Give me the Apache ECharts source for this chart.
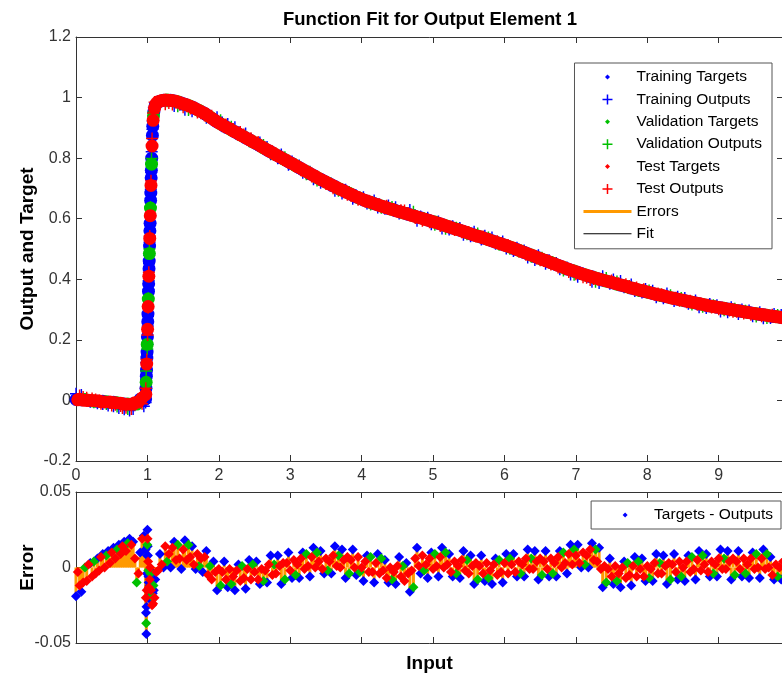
<!DOCTYPE html>
<html>
<head>
<meta charset="utf-8">
<script src="https://cdn.jsdelivr.net/npm/echarts@6/dist/echarts.min.js"></script>
<style>
html, body { margin: 0; padding: 0; background: #fff; }
#chart { width: 782px; height: 675px; }
</style>
</head>
<body>
<div id="chart"></div>
<script>
// input samples: flat part, the steep rise, then the decay
let inputX = [
  0, 0.025, 0.05, 0.075, 0.1, 0.125, 0.15, 0.175, 0.2, 0.225, 0.25, 0.275, 0.3, 0.325, 0.35, 0.375, 0.4, 0.425, 0.45, 0.475,
  0.5, 0.525, 0.55, 0.575, 0.6, 0.625, 0.65, 0.675, 0.7, 0.725, 0.75, 0.775, 0.8, 0.825, 0.85, 0.875, 0.9, 0.925, 0.95,
  0.975, 0.9775, 0.98, 0.9825, 0.985, 0.9875, 0.99, 0.9925, 0.995, 0.9975, 1, 1.0025, 1.005, 1.0075, 1.01, 1.0125, 1.015, 1.0175,
  1.02, 1.0225, 1.025, 1.0275, 1.03, 1.0325, 1.035, 1.0375, 1.04, 1.0425, 1.045, 1.0475, 1.05, 1.0525, 1.055, 1.0575, 1.06,
  1.065, 1.07, 1.075, 1.08, 1.085, 1.09, 1.1, 1.11, 1.125,
  1.15, 1.175, 1.2, 1.225, 1.25, 1.275, 1.3, 1.325, 1.35, 1.375, 1.4, 1.425,
  1.45, 1.475, 1.5, 1.525, 1.55, 1.575, 1.6, 1.625, 1.65, 1.675, 1.7, 1.725,
  1.75, 1.775, 1.8, 1.825, 1.85, 1.875, 1.9, 1.925, 1.95, 1.975, 2, 2.025,
  2.05, 2.075, 2.1, 2.125, 2.15, 2.175, 2.2, 2.225, 2.25, 2.275, 2.3, 2.325,
  2.35, 2.375, 2.4, 2.425, 2.45, 2.475, 2.5, 2.525, 2.55, 2.575, 2.6, 2.625,
  2.65, 2.675, 2.7, 2.725, 2.75, 2.775, 2.8, 2.825, 2.85, 2.875, 2.9, 2.925,
  2.95, 2.975, 3, 3.025, 3.05, 3.075, 3.1, 3.125, 3.15, 3.175, 3.2, 3.225,
  3.25, 3.275, 3.3, 3.325, 3.35, 3.375, 3.4, 3.425, 3.45, 3.475, 3.5, 3.525,
  3.55, 3.575, 3.6, 3.625, 3.65, 3.675, 3.7, 3.725, 3.75, 3.775, 3.8, 3.825,
  3.85, 3.875, 3.9, 3.925, 3.95, 3.975, 4, 4.025, 4.05, 4.075, 4.1, 4.125,
  4.15, 4.175, 4.2, 4.225, 4.25, 4.275, 4.3, 4.325, 4.35, 4.375, 4.4, 4.425,
  4.45, 4.475, 4.5, 4.525, 4.55, 4.575, 4.6, 4.625, 4.65, 4.675, 4.7, 4.725,
  4.75, 4.775, 4.8, 4.825, 4.85, 4.875, 4.9, 4.925, 4.95, 4.975, 5, 5.025,
  5.05, 5.075, 5.1, 5.125, 5.15, 5.175, 5.2, 5.225, 5.25, 5.275, 5.3, 5.325,
  5.35, 5.375, 5.4, 5.425, 5.45, 5.475, 5.5, 5.525, 5.55, 5.575, 5.6, 5.625,
  5.65, 5.675, 5.7, 5.725, 5.75, 5.775, 5.8, 5.825, 5.85, 5.875, 5.9, 5.925,
  5.95, 5.975, 6, 6.025, 6.05, 6.075, 6.1, 6.125, 6.15, 6.175, 6.2, 6.225,
  6.25, 6.275, 6.3, 6.325, 6.35, 6.375, 6.4, 6.425, 6.45, 6.475, 6.5, 6.525,
  6.55, 6.575, 6.6, 6.625, 6.65, 6.675, 6.7, 6.725, 6.75, 6.775, 6.8, 6.825,
  6.85, 6.875, 6.9, 6.925, 6.95, 6.975, 7, 7.025, 7.05, 7.075, 7.1, 7.125,
  7.15, 7.175, 7.2, 7.225, 7.25, 7.275, 7.3, 7.325, 7.35, 7.375, 7.4, 7.425,
  7.45, 7.475, 7.5, 7.525, 7.55, 7.575, 7.6, 7.625, 7.65, 7.675, 7.7, 7.725,
  7.75, 7.775, 7.8, 7.825, 7.85, 7.875, 7.9, 7.925, 7.95, 7.975, 8, 8.025,
  8.05, 8.075, 8.1, 8.125, 8.15, 8.175, 8.2, 8.225, 8.25, 8.275, 8.3, 8.325,
  8.35, 8.375, 8.4, 8.425, 8.45, 8.475, 8.5, 8.525, 8.55, 8.575, 8.6, 8.625,
  8.65, 8.675, 8.7, 8.725, 8.75, 8.775, 8.8, 8.825, 8.85, 8.875, 8.9, 8.925,
  8.95, 8.975, 9, 9.025, 9.05, 9.075, 9.1, 9.125, 9.15, 9.175, 9.2, 9.225,
  9.25, 9.275, 9.3, 9.325, 9.35, 9.375, 9.4, 9.425, 9.45, 9.475, 9.5, 9.525,
  9.55, 9.575, 9.6, 9.625, 9.65, 9.675, 9.7, 9.725, 9.75, 9.775, 9.8, 9.825,
  9.85, 9.875, 9.9
];

let targetY = [
  0.003, 0.002, 0.004, 0.002, 0.001, 0.003, 0.000, 0.001, -0.001, 0.000, -0.002, -0.001, -0.003, -0.002, -0.004, -0.003, -0.005, -0.004, -0.006, -0.005,
  -0.007, -0.006, -0.008, -0.008, -0.010, -0.009, -0.011, -0.012, -0.013, -0.012, -0.014, -0.013, -0.011, -0.008, -0.012, -0.005, 0.004, 0.008, 0.002,
  0.005, 0.02, 0.04, 0.06, 0.08, 0.1, 0.12, 0.14, 0.16, 0.185, 0.21, 0.235, 0.26, 0.285, 0.31, 0.335, 0.36, 0.385,
  0.41, 0.435, 0.46, 0.485, 0.51, 0.535, 0.56, 0.585, 0.61, 0.635, 0.66, 0.685, 0.71, 0.735, 0.76, 0.78, 0.8,
  0.84, 0.875, 0.905, 0.925, 0.94, 0.952, 0.965, 0.974, 0.981,
  0.986, 0.988, 0.990, 0.991, 0.992, 0.992, 0.991, 0.991, 0.990, 0.989, 0.988, 0.986,
  0.984, 0.982, 0.980, 0.978, 0.976, 0.974, 0.971, 0.969, 0.966, 0.963, 0.960, 0.957,
  0.954, 0.951, 0.948, 0.944, 0.940, 0.936, 0.932, 0.928, 0.924, 0.920, 0.916, 0.913,
  0.910, 0.906, 0.903, 0.900, 0.897, 0.893, 0.890, 0.887, 0.884, 0.880, 0.877, 0.874,
  0.871, 0.867, 0.864, 0.861, 0.858, 0.854, 0.851, 0.848, 0.845, 0.841, 0.838, 0.834,
  0.831, 0.827, 0.824, 0.821, 0.818, 0.814, 0.811, 0.808, 0.805, 0.801, 0.798, 0.795,
  0.792, 0.788, 0.785, 0.782, 0.779, 0.775, 0.772, 0.769, 0.766, 0.762, 0.759, 0.756,
  0.753, 0.749, 0.746, 0.743, 0.740, 0.736, 0.733, 0.730, 0.727, 0.724, 0.721, 0.718,
  0.715, 0.712, 0.709, 0.706, 0.703, 0.700, 0.697, 0.695, 0.692, 0.689, 0.686, 0.684,
  0.681, 0.678, 0.675, 0.672, 0.670, 0.667, 0.665, 0.662, 0.660, 0.658, 0.656, 0.654,
  0.652, 0.650, 0.648, 0.646, 0.644, 0.642, 0.640, 0.638, 0.636, 0.634, 0.632, 0.631,
  0.629, 0.627, 0.625, 0.624, 0.622, 0.620, 0.618, 0.617, 0.615, 0.613, 0.611, 0.610,
  0.608, 0.606, 0.604, 0.603, 0.601, 0.599, 0.597, 0.596, 0.594, 0.592, 0.590, 0.589,
  0.587, 0.585, 0.583, 0.581, 0.579, 0.577, 0.575, 0.573, 0.571, 0.569, 0.567, 0.566,
  0.564, 0.562, 0.560, 0.558, 0.556, 0.554, 0.552, 0.550, 0.548, 0.546, 0.544, 0.543,
  0.541, 0.539, 0.537, 0.535, 0.533, 0.531, 0.529, 0.527, 0.525, 0.523, 0.521, 0.519,
  0.517, 0.515, 0.513, 0.511, 0.509, 0.507, 0.505, 0.502, 0.500, 0.498, 0.496, 0.493,
  0.491, 0.489, 0.487, 0.484, 0.482, 0.480, 0.478, 0.475, 0.473, 0.471, 0.469, 0.466,
  0.464, 0.462, 0.460, 0.457, 0.455, 0.453, 0.451, 0.448, 0.446, 0.444, 0.442, 0.439,
  0.437, 0.435, 0.433, 0.431, 0.429, 0.427, 0.425, 0.423, 0.421, 0.419, 0.417, 0.415,
  0.413, 0.411, 0.410, 0.408, 0.406, 0.404, 0.403, 0.401, 0.399, 0.397, 0.396, 0.394,
  0.393, 0.391, 0.390, 0.388, 0.386, 0.384, 0.383, 0.381, 0.380, 0.378, 0.377, 0.375,
  0.373, 0.371, 0.370, 0.368, 0.367, 0.365, 0.364, 0.362, 0.361, 0.359, 0.358, 0.356,
  0.355, 0.353, 0.352, 0.350, 0.349, 0.348, 0.347, 0.345, 0.344, 0.342, 0.341, 0.339,
  0.338, 0.337, 0.336, 0.334, 0.333, 0.332, 0.331, 0.329, 0.328, 0.327, 0.326, 0.324,
  0.323, 0.322, 0.321, 0.319, 0.318, 0.317, 0.316, 0.314, 0.313, 0.312, 0.311, 0.310,
  0.309, 0.308, 0.307, 0.306, 0.305, 0.304, 0.303, 0.302, 0.301, 0.300, 0.299, 0.298,
  0.297, 0.296, 0.295, 0.294, 0.293, 0.292, 0.291, 0.290, 0.289, 0.288, 0.287, 0.286,
  0.285, 0.284, 0.284, 0.283, 0.282, 0.281, 0.280, 0.279, 0.278, 0.277, 0.277, 0.276,
  0.275, 0.274, 0.273
];

// targets - outputs
let errorY = [
  -0.019, -0.003, -0.012, -0.016, -0.010, 0.000, -0.009, 0.002, 0.003, -0.006, 0.004, -0.004, 0.006, -0.002, 0.007, 0.009, 0.000, 0.008, 0.011, 0.003,
  0.010, 0.013, 0.006, 0.012, 0.015, 0.009, 0.014, 0.017, 0.011, 0.016, 0.019, 0.015, 0.017, 0.006, -0.010, -0.004, 0.010, 0.019, 0.021,
  0.012, -0.020, -0.030, -0.037, -0.044, -0.026, -0.015, -0.004, 0.008, 0.015, 0.025, 0.019, 0.014, 0.008, 0.004, -0.002, -0.006, -0.010,
  -0.013, -0.016, -0.019, -0.015, -0.012, -0.008, -0.005, -0.002, 0.000, -0.004, -0.008, -0.012, -0.015, -0.018, -0.022, -0.019, -0.021,
  -0.025, -0.020, -0.017, -0.024, -0.012, -0.015, -0.020, -0.008, -0.003,
  -0.002, 0.009, 0.002, 0.000, 0.014, 0.004, 0.009, 0.000, 0.013, 0.017, 0.005, 0.015,
  0.006, -0.001, 0.012, 0.018, 0.005, 0.015, 0.007, 0.014, 0.002, -0.001, 0.009, 0.001,
  0.006, -0.003, 0.007, 0.011, -0.005, 0.001, -0.008, 0.004, -0.003, -0.015, -0.001, -0.012,
  -0.003, 0.004, -0.008, -0.013, -0.001, -0.011, -0.006, -0.015, -0.002, 0.002, -0.009, 0.001,
  -0.007, -0.014, -0.001, 0.005, -0.008, 0.002, -0.003, 0.004, -0.008, -0.011, -0.001, -0.009,
  -0.002, -0.010, 0.002, 0.008, -0.005, 0.002, -0.004, 0.008, 0.001, -0.011, 0.003, -0.008,
  0.003, 0.010, -0.002, -0.007, 0.005, -0.005, 0.002, -0.007, 0.006, 0.010, -0.001, 0.009,
  0.001, -0.006, 0.007, 0.013, 0.000, 0.010, 0.004, 0.011, -0.001, -0.004, 0.006, -0.002,
  0.004, -0.004, 0.008, 0.014, 0.001, 0.008, 0.000, 0.012, 0.005, -0.007, 0.007, -0.004,
  0.005, 0.012, 0.000, -0.005, 0.007, -0.003, 0.000, -0.009, 0.004, 0.008, -0.003, 0.007,
  -0.003, -0.010, 0.003, 0.009, -0.004, 0.006, -0.002, 0.005, -0.007, -0.010, 0.000, -0.008,
  -0.003, -0.011, 0.001, 0.007, -0.006, 0.001, -0.009, 0.003, -0.004, -0.016, -0.002, -0.013,
  0.006, 0.013, 0.001, -0.004, 0.008, -0.002, 0.002, -0.007, 0.006, 0.010, -0.001, 0.009,
  0.001, -0.006, 0.007, 0.013, 0.000, 0.010, 0.002, 0.009, -0.003, -0.006, 0.004, -0.004,
  0.001, -0.007, 0.005, 0.011, -0.002, 0.005, -0.004, 0.008, 0.001, -0.011, 0.003, -0.008,
  0.001, 0.008, -0.004, -0.009, 0.003, -0.007, -0.002, -0.011, 0.002, 0.006, -0.005, 0.005,
  -0.003, -0.010, 0.003, 0.009, -0.004, 0.006, 0.002, 0.009, -0.003, -0.006, 0.004, -0.004,
  0.002, -0.006, 0.006, 0.012, -0.001, 0.006, -0.001, 0.011, 0.004, -0.008, 0.006, -0.005,
  0.004, 0.011, -0.001, -0.006, 0.006, -0.004, 0.003, -0.006, 0.007, 0.011, 0.000, 0.010,
  0.003, -0.004, 0.009, 0.015, 0.002, 0.012, 0.008, 0.015, 0.003, 0.000, 0.010, 0.002,
  0.008, 0.000, 0.012, 0.016, 0.005, 0.012, 0.004, 0.013, -0.001, -0.013, 0.001, -0.010,
  -0.001, 0.006, -0.006, -0.011, 0.001, -0.009, -0.004, -0.013, 0.000, 0.004, -0.007, 0.003,
  -0.005, -0.012, 0.001, 0.007, -0.006, 0.004, -0.001, 0.006, -0.006, -0.009, 0.001, -0.007,
  -0.001, -0.009, 0.003, 0.009, -0.004, 0.003, -0.004, 0.008, 0.001, -0.011, 0.003, -0.008,
  0.002, 0.009, -0.003, -0.008, 0.004, -0.006, 0.000, -0.009, 0.004, 0.008, -0.003, 0.007,
  -0.001, -0.008, 0.005, 0.011, -0.002, 0.008, 0.002, 0.009, -0.003, -0.006, 0.004, -0.004,
  0.002, -0.006, 0.006, 0.012, -0.001, 0.006, -0.001, 0.011, 0.004, -0.008, 0.006, -0.005,
  0.004, 0.011, -0.001, -0.006, 0.006, -0.004, 0.002, -0.007, 0.006, 0.010, -0.001, 0.009,
  0.000, -0.007, 0.006, 0.012, -0.001, 0.009, 0.000, 0.007, -0.005, -0.008, 0.002, -0.006,
  0.000, -0.008, 0.004
];

// which set each sample went to: T = training, V = validation, S = test
let dataSplit =
  'TSSTSVSSTS' + 'VSTSSTSVTS' + 'STSVTSSTSV' + 'TSTSVSTST' +
  'TSTVTTSTTV' + 'TSTTSVTTST' + 'TVTSTTSVTT' + 'STTVTSTTSV' + 'TSTS' +
  'STSTSVSTSTSV' + 'STSTSVSTSTSV' + 'STSTSVSTSTSV' + 'STSTSVSTSTSV' + 'STSTSVSTSTSV' +
  'STSTSVSTSTSV' + 'STSTSVSTSTSV' + 'STSTSVSTSTSV' + 'STSTSVSTSTSV' + 'STSTSVSTSTSV' +
  'STSTSVSTSTSV' + 'STSTSVSTSTSV' + 'STSTSVSTSTSV' + 'STSTSVSTSTSV' + 'STSTSVSTSTSV' +
  'STSTSVSTSTSV' + 'STSTSVSTSTSV' + 'STSTSVSTSTSV' + 'STSTSVSTSTSV' + 'STSTSVSTSTSV' +
  'STSTSVSTSTSV' + 'STSTSVSTSTSV' + 'STSTSVSTSTSV' + 'STSTSVSTSTSV' + 'STSTSVSTSTSV' +
  'STSTSVSTSTSV' + 'STSTSVSTSTSV' + 'STSTSVSTSTSV' + 'STSTSVSTSTSV' + 'STS';

let setColor = { T: '#0000ff', V: '#00c000', S: '#ff0000' };
let orange = '#ff9900';
let font = "'Liberation Sans', Arial, Helvetica, sans-serif";
let axisColor = '#333';

function pick(code, kind) {
  let out = [];
  for (let i = 0; i < inputX.length; i++) {
    if (code && dataSplit[i] !== code) continue;
    if (kind === 'target') out.push([inputX[i], targetY[i]]);
    else if (kind === 'output') out.push([inputX[i], targetY[i] - errorY[i]]);
    else if (kind === 'stem') out.push([inputX[i], targetY[i], targetY[i] - errorY[i]]);
    else out.push([inputX[i], errorY[i]]);
  }
  return out;
}

let dotIcon = 'path://M0,0M48,14M24,4.5L26.5,7L24,9.5L21.5,7Z';
let plusIcon = 'path://M0,0M48,14M23.25,2h1.5v4.25h4.25v1.5h-4.25v4.25h-1.5v-4.25h-4.25v-1.5h4.25Z';
let thickIcon = 'path://M0,0M48,14M0,5.5h48v3h-48Z';
let thinIcon = 'path://M0,0M48,14M0,6.5h48v1h-48Z';
let plusSymbol = 'path://M4.4,0h1.2v4.4h4.4v1.2h-4.4v4.4h-1.2v-4.4h-4.4v-1.2h4.4Z';

function axis(extra) {
  return Object.assign({
    type: 'value',
    axisLine: { show: true, onZero: false, lineStyle: { color: axisColor, width: 1 } },
    axisTick: { show: true, inside: true, length: 6, lineStyle: { color: axisColor } },
    splitLine: { show: false },
    axisLabel: { show: false },
    nameMoveOverlap: false
  }, extra);
}
let tickLabel = { show: true, fontSize: 16, color: '#333', fontFamily: font, margin: 5 };
let nameStyle = { fontSize: 19, fontWeight: 'bold', color: '#000', fontFamily: font };

function scatter(name, code, kind, symbol, size) {
  return {
    name: name, type: 'scatter', xAxisIndex: 0, yAxisIndex: 0, z: 3,
    symbol: symbol, symbolSize: size,
    itemStyle: { color: setColor[code], opacity: 1 },
    data: pick(code, kind)
  };
}
function errScatter(name, code) {
  return {
    name: name, type: 'scatter', xAxisIndex: 2, yAxisIndex: 2, z: 3,
    symbol: 'diamond', symbolSize: 10,
    itemStyle: { color: setColor[code], opacity: 1 },
    data: pick(code, 'error')
  };
}

let myChart = echarts.init(document.getElementById('chart'));
let option = {
  animation: false,
  backgroundColor: '#fff',
  title: {
    text: 'Function Fit for Output Element 1',
    left: 283, top: 10, padding: 0,
    textStyle: { fontSize: 18.5, fontWeight: 'bold', color: '#000', fontFamily: font }
  },
  grid: [
    { left: 76, right: -1, top: 37, bottom: 214, outerBoundsMode: 'none' },
    { left: 76, right: -1, top: 492, bottom: 32, outerBoundsMode: 'none' }
  ],
  xAxis: [
    axis({ gridIndex: 0, position: 'bottom', min: 0, max: 9.9, interval: 1,
      axisLabel: Object.assign({}, tickLabel, { margin: 7, showMaxLabel: false }) }),
    axis({ gridIndex: 0, position: 'top', min: 0, max: 9.9, interval: 1 }),
    axis({ gridIndex: 1, position: 'bottom', min: 0, max: 9.9, interval: 1,
      name: 'Input', nameLocation: 'middle', nameGap: 11, nameTextStyle: nameStyle }),
    axis({ gridIndex: 1, position: 'top', min: 0, max: 9.9, interval: 1 })
  ],
  yAxis: [
    axis({ gridIndex: 0, position: 'left', min: -0.2, max: 1.2, interval: 0.2, axisLabel: tickLabel,
      name: 'Output and Target', nameLocation: 'middle', nameGap: 39, nameTextStyle: nameStyle }),
    axis({ gridIndex: 0, position: 'right', min: -0.2, max: 1.2, interval: 0.2 }),
    axis({ gridIndex: 1, position: 'left', min: -0.05, max: 0.05, interval: 0.05, axisLabel: tickLabel,
      name: 'Error', nameLocation: 'middle', nameGap: 39, nameTextStyle: nameStyle }),
    axis({ gridIndex: 1, position: 'right', min: -0.05, max: 0.05, interval: 0.05 })
  ],
  legend: [{
    orient: 'vertical', right: 10, top: 63,
    padding: [6, 10, 7, 9], itemGap: 6.4, itemWidth: 48, itemHeight: 14,
    backgroundColor: '#fff', borderColor: '#555', borderWidth: 1, borderRadius: 0,
    selectedMode: false,
    itemStyle: { borderWidth: 0 },
    textStyle: { fontSize: 15.5, color: '#000', fontFamily: font },
    data: [
      { name: 'Training Targets', icon: dotIcon },
      { name: 'Training Outputs', icon: plusIcon },
      { name: 'Validation Targets', icon: dotIcon },
      { name: 'Validation Outputs', icon: plusIcon },
      { name: 'Test Targets', icon: dotIcon },
      { name: 'Test Outputs', icon: plusIcon },
      { name: 'Errors', icon: thickIcon },
      { name: 'Fit', icon: thinIcon }
    ]
  }, {
    orient: 'vertical', right: 1, top: 501,
    padding: [6, 8, 6, 10], itemWidth: 48, itemHeight: 14,
    backgroundColor: '#fff', borderColor: '#555', borderWidth: 1, borderRadius: 0,
    selectedMode: false,
    itemStyle: { borderWidth: 0 },
    textStyle: { fontSize: 15.5, color: '#000', fontFamily: font },
    data: [{ name: 'Targets - Outputs', icon: dotIcon }]
  }],
  series: [
    {
      name: 'Fit', type: 'line', xAxisIndex: 0, yAxisIndex: 0, z: 1,
      symbol: 'none', lineStyle: { color: '#000', width: 1 }, itemStyle: { color: '#000' },
      data: pick(null, 'output')
    },
    {
      name: 'Errors', type: 'custom', coordinateSystem: 'cartesian2d', xAxisIndex: 0, yAxisIndex: 0, z: 1,
      itemStyle: { color: orange },
      encode: { x: 0, y: [1, 2] },
      renderItem: function (params, api) {
        let a = api.coord([api.value(0), api.value(1)]);
        let b = api.coord([api.value(0), api.value(2)]);
        return { type: 'line', shape: { x1: a[0], y1: a[1], x2: b[0], y2: b[1] }, style: { stroke: orange, lineWidth: 2 } };
      },
      data: pick(null, 'stem')
    },
    scatter('Training Targets', 'T', 'target', 'circle', 13),
    scatter('Training Outputs', 'T', 'output', plusSymbol, 12),
    scatter('Validation Targets', 'V', 'target', 'circle', 13),
    scatter('Validation Outputs', 'V', 'output', plusSymbol, 12),
    scatter('Test Targets', 'S', 'target', 'circle', 13),
    scatter('Test Outputs', 'S', 'output', plusSymbol, 12),
    {
      name: 'Error Stems', type: 'custom', coordinateSystem: 'cartesian2d', xAxisIndex: 2, yAxisIndex: 2, z: 1,
      itemStyle: { color: orange },
      encode: { x: 0, y: 1 },
      renderItem: function (params, api) {
        let a = api.coord([api.value(0), 0]);
        let b = api.coord([api.value(0), api.value(1)]);
        return { type: 'line', shape: { x1: a[0], y1: a[1], x2: b[0], y2: b[1] }, style: { stroke: orange, lineWidth: 3 } };
      },
      data: pick(null, 'error')
    },
    errScatter('Targets - Outputs', 'T'),
    errScatter('Validation Errors', 'V'),
    errScatter('Test Errors', 'S')
  ]
};
myChart.setOption(option);
</script>
</body>
</html>
